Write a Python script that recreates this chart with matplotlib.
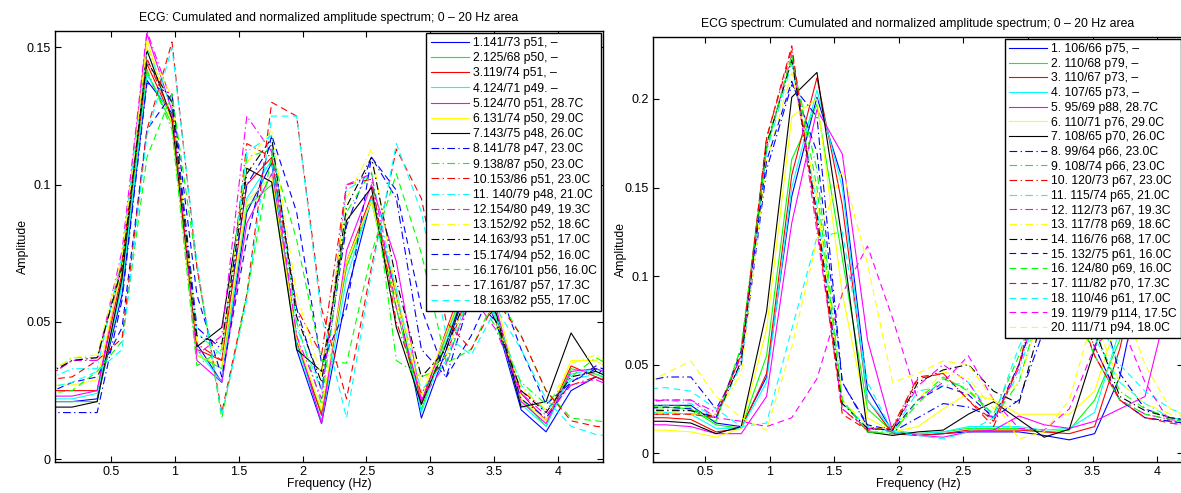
import matplotlib
matplotlib.use('Agg')
import matplotlib.pyplot as plt
from matplotlib.ticker import FormatStrFormatter

plt.rcParams['font.family'] = ['Liberation Sans', 'DejaVu Sans']
plt.rcParams['font.size'] = 9

# frequency grid (Hz)
FREQ = [0.0, 0.195, 0.391, 0.586, 0.781, 0.977, 1.172, 1.367, 1.563, 1.758, 1.953, 2.148,
        2.344, 2.539, 2.734, 2.930, 3.125, 3.320, 3.516, 3.711, 3.906, 4.102, 4.297, 4.492]

# ---- left panel: ECG
LEFT_LABELS = ['1.141/73 p51, \u2013', '2.125/68 p50, \u2013', '3.119/74 p51, \u2013', '4.124/71 p49. \u2013',
               '5.124/70 p51, 28.7C', '6.131/74 p50, 29.0C', '7.143/75 p48, 26.0C', '8.141/78 p47, 23.0C',
               '9.138/87 p50, 23.0C', '10.153/86 p51, 23.0C', '11. 140/79 p48, 21.0C', '12.154/80 p49, 19.3C',
               '13.152/92 p52, 18.6C', '14.163/93 p51, 17.0C', '15.174/94 p52, 16.0C', '16.176/101 p56, 16.0C',
               '17.161/87 p57, 17.3C', '18.163/82 p55, 17.0C']
L01 = [0.021, 0.021, 0.022, 0.060, 0.138, 0.126, 0.042, 0.028, 0.090, 0.108, 0.040, 0.013, 0.060, 0.095, 0.060, 0.015, 0.040, 0.068, 0.050, 0.018, 0.010, 0.025, 0.030, 0.026]
L02 = [0.021, 0.021, 0.021, 0.064, 0.141, 0.122, 0.038, 0.033, 0.092, 0.100, 0.042, 0.017, 0.070, 0.094, 0.055, 0.018, 0.045, 0.070, 0.052, 0.022, 0.012, 0.033, 0.031, 0.027]
L03 = [0.025, 0.025, 0.025, 0.068, 0.144, 0.124, 0.040, 0.036, 0.100, 0.110, 0.043, 0.016, 0.072, 0.096, 0.060, 0.020, 0.047, 0.072, 0.053, 0.024, 0.014, 0.034, 0.030, 0.026]
L04 = [0.022, 0.022, 0.024, 0.063, 0.140, 0.125, 0.040, 0.028, 0.095, 0.109, 0.042, 0.014, 0.066, 0.095, 0.062, 0.017, 0.043, 0.069, 0.051, 0.020, 0.012, 0.031, 0.033, 0.028]
L05 = [0.023, 0.023, 0.025, 0.072, 0.155, 0.127, 0.036, 0.028, 0.086, 0.104, 0.045, 0.013, 0.076, 0.100, 0.072, 0.021, 0.046, 0.073, 0.055, 0.021, 0.013, 0.032, 0.033, 0.030]
L06 = [0.027, 0.027, 0.029, 0.070, 0.153, 0.122, 0.038, 0.034, 0.094, 0.103, 0.044, 0.018, 0.072, 0.094, 0.058, 0.023, 0.046, 0.071, 0.058, 0.022, 0.014, 0.036, 0.036, 0.030]
L07 = [0.019, 0.019, 0.021, 0.066, 0.149, 0.124, 0.041, 0.048, 0.106, 0.101, 0.040, 0.032, 0.087, 0.099, 0.048, 0.020, 0.042, 0.068, 0.053, 0.019, 0.021, 0.046, 0.032, 0.028]
L08 = [0.017, 0.017, 0.017, 0.058, 0.137, 0.133, 0.048, 0.040, 0.100, 0.115, 0.055, 0.025, 0.085, 0.110, 0.095, 0.040, 0.030, 0.060, 0.050, 0.022, 0.015, 0.028, 0.033, 0.027]
L09 = [0.031, 0.037, 0.037, 0.070, 0.142, 0.120, 0.034, 0.040, 0.110, 0.113, 0.050, 0.020, 0.090, 0.105, 0.036, 0.030, 0.034, 0.062, 0.048, 0.028, 0.020, 0.030, 0.037, 0.032]
L10 = [0.030, 0.036, 0.036, 0.072, 0.146, 0.125, 0.042, 0.036, 0.115, 0.110, 0.055, 0.038, 0.100, 0.102, 0.050, 0.024, 0.038, 0.064, 0.050, 0.025, 0.018, 0.027, 0.030, 0.027]
L11 = [0.029, 0.033, 0.033, 0.074, 0.150, 0.128, 0.046, 0.038, 0.112, 0.118, 0.048, 0.025, 0.098, 0.104, 0.060, 0.025, 0.036, 0.063, 0.052, 0.027, 0.017, 0.029, 0.031, 0.028]
L12 = [0.030, 0.036, 0.036, 0.076, 0.156, 0.130, 0.038, 0.045, 0.125, 0.112, 0.045, 0.022, 0.100, 0.104, 0.055, 0.022, 0.035, 0.060, 0.047, 0.024, 0.016, 0.027, 0.029, 0.025]
L13 = [0.031, 0.037, 0.038, 0.074, 0.150, 0.132, 0.043, 0.040, 0.108, 0.120, 0.060, 0.030, 0.095, 0.113, 0.060, 0.028, 0.038, 0.065, 0.050, 0.026, 0.018, 0.035, 0.038, 0.033]
L14 = [0.031, 0.036, 0.037, 0.070, 0.145, 0.130, 0.045, 0.042, 0.104, 0.117, 0.052, 0.028, 0.092, 0.110, 0.065, 0.030, 0.040, 0.064, 0.050, 0.025, 0.017, 0.030, 0.032, 0.028]
L15 = [0.024, 0.028, 0.030, 0.048, 0.120, 0.133, 0.060, 0.030, 0.080, 0.118, 0.090, 0.035, 0.055, 0.110, 0.098, 0.055, 0.030, 0.045, 0.065, 0.040, 0.020, 0.028, 0.034, 0.030]
L16 = [0.024, 0.025, 0.032, 0.043, 0.110, 0.133, 0.070, 0.015, 0.060, 0.111, 0.080, 0.036, 0.035, 0.075, 0.104, 0.075, 0.035, 0.040, 0.060, 0.045, 0.025, 0.015, 0.014, 0.013]
L17 = [0.029, 0.030, 0.036, 0.044, 0.120, 0.152, 0.070, 0.017, 0.060, 0.130, 0.125, 0.055, 0.022, 0.070, 0.113, 0.095, 0.050, 0.040, 0.058, 0.045, 0.025, 0.014, 0.012, 0.011]
L18 = [0.026, 0.028, 0.032, 0.040, 0.118, 0.150, 0.072, 0.016, 0.058, 0.125, 0.125, 0.052, 0.015, 0.068, 0.115, 0.090, 0.045, 0.038, 0.055, 0.040, 0.022, 0.012, 0.009, 0.008]
LEFT_DATA = [L01, L02, L03, L04, L05, L06, L07, L08, L09, L10, L11, L12, L13, L14, L15, L16, L17, L18]

# ---- right panel: ECG spectrum
RIGHT_LABELS = ['1. 106/66 p75, \u2013', '2. 110/68 p79, \u2013', '3. 110/67 p73, \u2013', '4. 107/65 p73, \u2013',
                '5. 95/69 p88, 28.7C', '6. 110/71 p76, 29.0C', '7. 108/65 p70, 26.0C', '8. 99/64 p66, 23.0C',
                '9. 108/74 p66, 23.0C', '10. 120/73 p67, 23.0C', '11. 115/74 p65, 21.0C', '12. 112/73 p67, 19.3C',
                '13. 117/78 p69, 18.6C', '14. 116/76 p68, 17.0C', '15. 132/75 p61, 16.0C', '16. 124/80 p69, 16.0C',
                '17. 111/82 p70, 17.3C', '18. 110/46 p61, 17.0C', '19. 119/79 p114, 17.5C', '20. 111/71 p94, 18.0C']
R01 = [0.027, 0.027, 0.027, 0.017, 0.015, 0.043, 0.145, 0.201, 0.155, 0.036, 0.012, 0.010, 0.011, 0.012, 0.012, 0.012, 0.010, 0.0075, 0.011, 0.043, 0.110, 0.120, 0.060, 0.030]
R02 = [0.026, 0.026, 0.025, 0.016, 0.014, 0.055, 0.166, 0.197, 0.110, 0.025, 0.012, 0.011, 0.012, 0.014, 0.014, 0.014, 0.012, 0.013, 0.030, 0.064, 0.120, 0.110, 0.055, 0.030]
R03 = [0.020, 0.020, 0.019, 0.012, 0.014, 0.045, 0.157, 0.212, 0.140, 0.030, 0.011, 0.010, 0.011, 0.013, 0.013, 0.013, 0.012, 0.011, 0.015, 0.059, 0.120, 0.115, 0.058, 0.030]
R04 = [0.023, 0.023, 0.022, 0.014, 0.014, 0.040, 0.150, 0.205, 0.150, 0.030, 0.013, 0.011, 0.012, 0.015, 0.015, 0.015, 0.013, 0.014, 0.023, 0.070, 0.125, 0.110, 0.055, 0.030]
R05 = [0.016, 0.016, 0.015, 0.011, 0.011, 0.032, 0.130, 0.194, 0.169, 0.064, 0.012, 0.010, 0.009, 0.012, 0.013, 0.021, 0.016, 0.014, 0.018, 0.025, 0.032, 0.090, 0.100, 0.060]
R06 = [0.013, 0.013, 0.012, 0.009, 0.014, 0.070, 0.190, 0.200, 0.090, 0.020, 0.012, 0.015, 0.025, 0.034, 0.030, 0.022, 0.022, 0.022, 0.035, 0.080, 0.120, 0.100, 0.050, 0.028]
R07 = [0.018, 0.018, 0.017, 0.011, 0.015, 0.080, 0.201, 0.215, 0.120, 0.012, 0.010, 0.012, 0.013, 0.022, 0.029, 0.019, 0.009, 0.0135, 0.059, 0.110, 0.115, 0.080, 0.045, 0.025]
R08 = [0.040, 0.043, 0.043, 0.025, 0.050, 0.160, 0.208, 0.190, 0.040, 0.015, 0.012, 0.020, 0.028, 0.026, 0.020, 0.030, 0.070, 0.110, 0.095, 0.045, 0.025, 0.020, 0.018, 0.016]
R09 = [0.024, 0.025, 0.024, 0.018, 0.060, 0.175, 0.222, 0.160, 0.030, 0.012, 0.012, 0.028, 0.042, 0.036, 0.020, 0.040, 0.090, 0.105, 0.070, 0.035, 0.025, 0.020, 0.018, 0.017]
R10 = [0.022, 0.022, 0.022, 0.022, 0.055, 0.178, 0.228, 0.130, 0.025, 0.013, 0.015, 0.043, 0.045, 0.030, 0.015, 0.050, 0.100, 0.095, 0.060, 0.030, 0.020, 0.018, 0.016, 0.015]
R11 = [0.028, 0.030, 0.028, 0.020, 0.050, 0.170, 0.220, 0.140, 0.028, 0.015, 0.012, 0.035, 0.038, 0.040, 0.020, 0.045, 0.095, 0.100, 0.065, 0.040, 0.028, 0.020, 0.018, 0.017]
R12 = [0.029, 0.030, 0.030, 0.023, 0.055, 0.172, 0.225, 0.125, 0.025, 0.014, 0.013, 0.038, 0.050, 0.040, 0.018, 0.048, 0.098, 0.090, 0.055, 0.030, 0.022, 0.019, 0.017, 0.016]
R13 = [0.022, 0.023, 0.022, 0.022, 0.045, 0.165, 0.215, 0.145, 0.030, 0.015, 0.013, 0.030, 0.046, 0.042, 0.025, 0.040, 0.085, 0.105, 0.075, 0.040, 0.028, 0.022, 0.020, 0.018]
R14 = [0.024, 0.024, 0.024, 0.020, 0.052, 0.174, 0.222, 0.135, 0.028, 0.014, 0.013, 0.040, 0.047, 0.050, 0.035, 0.028, 0.080, 0.108, 0.070, 0.032, 0.024, 0.020, 0.018, 0.017]
R15 = [0.025, 0.026, 0.025, 0.020, 0.058, 0.165, 0.210, 0.170, 0.040, 0.016, 0.013, 0.030, 0.038, 0.033, 0.020, 0.050, 0.095, 0.095, 0.060, 0.030, 0.020, 0.018, 0.016, 0.015]
R16 = [0.026, 0.027, 0.026, 0.018, 0.060, 0.172, 0.225, 0.150, 0.030, 0.012, 0.011, 0.030, 0.043, 0.035, 0.022, 0.055, 0.100, 0.090, 0.055, 0.030, 0.022, 0.019, 0.017, 0.016]
R17 = [0.022, 0.022, 0.022, 0.020, 0.056, 0.178, 0.230, 0.130, 0.022, 0.013, 0.014, 0.042, 0.045, 0.030, 0.018, 0.050, 0.105, 0.095, 0.055, 0.030, 0.020, 0.017, 0.015, 0.014]
R18 = [0.036, 0.037, 0.035, 0.025, 0.015, 0.017, 0.070, 0.122, 0.125, 0.040, 0.012, 0.010, 0.008, 0.012, 0.020, 0.060, 0.090, 0.110, 0.080, 0.050, 0.035, 0.025, 0.020, 0.018]
R19 = [0.030, 0.030, 0.030, 0.020, 0.018, 0.015, 0.020, 0.042, 0.090, 0.117, 0.076, 0.030, 0.040, 0.055, 0.030, 0.014, 0.013, 0.025, 0.060, 0.075, 0.040, 0.017, 0.015, 0.014]
R20 = [0.038, 0.045, 0.052, 0.032, 0.020, 0.013, 0.060, 0.120, 0.160, 0.107, 0.040, 0.045, 0.052, 0.050, 0.030, 0.008, 0.012, 0.030, 0.080, 0.090, 0.050, 0.025, 0.018, 0.016]
RIGHT_DATA = [R01, R02, R03, R04, R05, R06, R07, R08, R09, R10, R11, R12, R13, R14, R15, R16, R17, R18, R19, R20]

# matlab-ish colour order and line styles
COLORS = ['#0000FF', '#00FF00', '#FF0000', '#00FFFF', '#FF00FF', '#FFFF00', '#000000']
DASHDOT = (0, (7, 3, 1.2, 3))
DASHED = (0, (6, 4))


def style_for(i):
    color = COLORS[i % 7]
    if i < 7:
        return color, '-'
    elif i < 14:
        return color, DASHDOT
    else:
        return color, DASHED


def draw_panel(ax, data, labels, title, xlim, ylim, yticks, legend_spacing):
    for i, vals in enumerate(data):
        c, ls = style_for(i)
        ax.plot(FREQ, vals, color=c, linestyle=ls, linewidth=0.8, label=labels[i])
    ax.set_xlim(*xlim)
    ax.set_ylim(*ylim)
    ax.set_xticks([0.5, 1, 1.5, 2, 2.5, 3, 3.5, 4])
    ax.set_yticks(yticks)
    ax.xaxis.set_major_formatter(FormatStrFormatter('%g'))
    ax.yaxis.set_major_formatter(FormatStrFormatter('%g'))
    ax.tick_params(direction='in', top=True, right=True, length=4, width=0.8, labelsize=9, pad=3)
    for s in ax.spines.values():
        s.set_linewidth(1.0)
    ax.set_title(title, fontsize=8.8, pad=7)
    ax.set_xlabel('Frequency (Hz)', fontsize=8.8, labelpad=0)
    ax.set_ylabel('Amplitude', fontsize=8.8, labelpad=-2)
    leg = ax.legend(loc='upper right', fontsize=8.8, labelspacing=legend_spacing, handlelength=3.1,
                    handletextpad=0.35, borderpad=0.35, borderaxespad=0.15,
                    fancybox=False, framealpha=1, edgecolor='black')
    leg.get_frame().set_linewidth(1.0)


fig = plt.figure(figsize=(11.81, 4.93), dpi=100)
ax1 = fig.add_axes([55 / 1181, 1 - 462 / 493, 548 / 1181, 431 / 493])
ax2 = fig.add_axes([653 / 1181, 1 - 462 / 493, 530 / 1181, 425 / 493])

draw_panel(ax1, LEFT_DATA, LEFT_LABELS,
           'ECG: Cumulated and normalized amplitude spectrum; 0 \u2013 20 Hz area',
           (0.061, 4.352), (-0.001, 0.156), [0, 0.05, 0.1, 0.15], 0.26)
draw_panel(ax2, RIGHT_DATA, RIGHT_LABELS,
           'ECG spectrum: Cumulated and normalized amplitude spectrum; 0 \u2013 20 Hz area',
           (0.098, 4.2), (-0.005, 0.235), [0, 0.05, 0.1, 0.15, 0.2], 0.22)

fig.savefig('out.png', dpi=100)
